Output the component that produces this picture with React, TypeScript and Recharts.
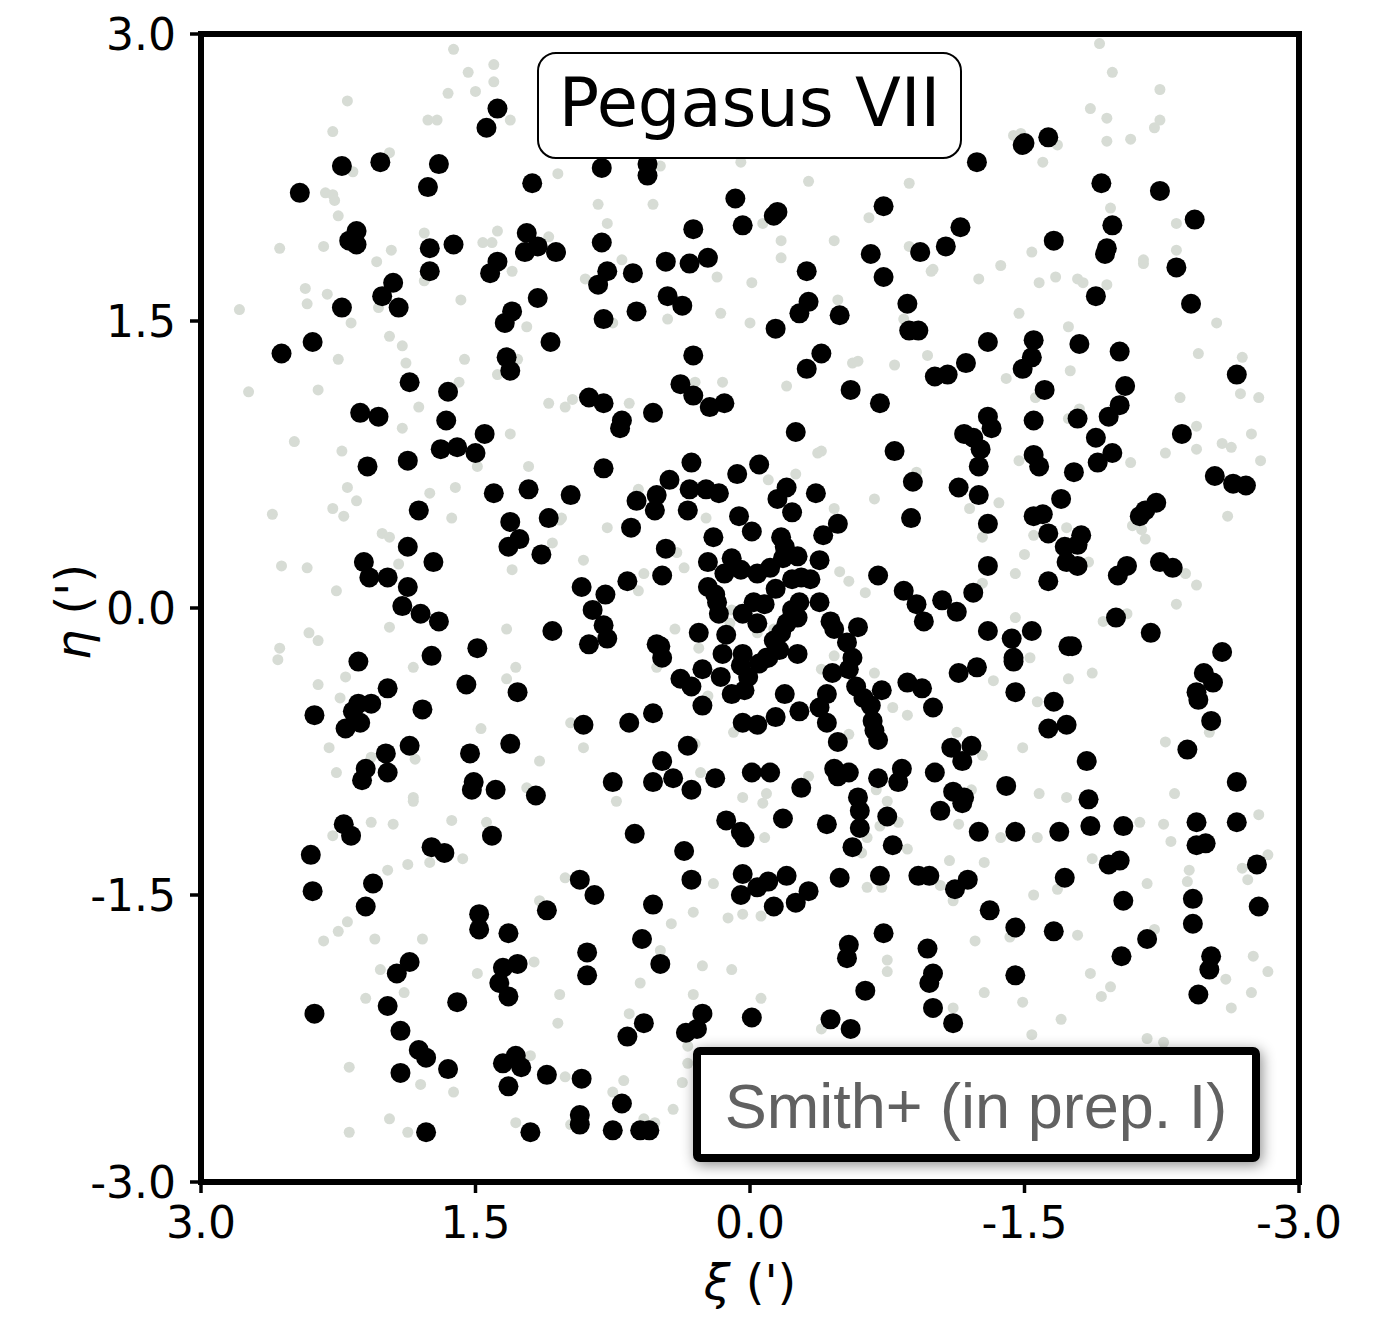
import React from 'react';
import { ScatterChart, Scatter, XAxis, YAxis, ReferenceArea } from 'recharts';

// ---------- data (xi, eta) in arcmin ----------
const xTicks = [3, 1.5, 0, -1.5, -3];
const yTicks = [3, 1.5, 0, -1.5, -3];
const titleText = 'Pegasus VII';
const creditText = 'Smith+ (in prep. I)';
const xTitleSymbol = 'ξ';
const yTitleSymbol = 'η';
const unitText = " (')";

// faint field stars (light grey)
const fieldStars: [number, number][] = [
  [1.62,2.92],[1.40,2.84],[1.54,2.80],[1.40,2.75],[1.65,2.69],[1.50,2.70],[2.20,2.65],[1.76,2.55],[1.71,2.55],[1.31,2.55],
  [2.28,2.49],[1.97,2.38],[2.17,2.28],[1.05,2.27],[2.32,2.17],[2.28,2.16],[2.27,2.13],[2.25,2.05],[1.78,1.96],[1.38,1.97],
  [1.46,1.91],[1.41,1.91],[1.10,1.94],[2.57,1.88],[2.33,1.89],[1.96,1.87],[2.04,1.81],[1.30,1.76],[1.78,1.71],[2.43,1.67],
  [2.31,1.64],[2.42,1.59],[1.58,1.61],[2.03,1.57],[2.79,1.56],[2.18,1.49],[1.22,1.47],[1.97,1.42],[1.90,1.37],[1.56,1.30],
  [2.25,1.30],[1.88,1.28],[1.27,1.30],[1.38,1.22],[1.59,1.18],[2.74,1.13],[2.36,1.14],[1.81,1.05],[1.10,1.07],[1.01,1.05],
  [0.49,2.31],[0.05,2.33],[-0.32,2.23],[-0.87,2.22],[0.83,2.11],[0.53,2.11],[0.78,2.01],[-0.07,2.01],[-0.65,2.04],[-0.17,1.92],
  [-0.46,1.92],[-0.87,1.89],[-0.17,1.83],[0.70,1.82],[0.90,1.72],[0.18,1.73],[-0.01,1.70],[-0.99,1.76],[-0.48,1.61],[0.16,1.54],
  [0.00,1.49],[0.45,1.51],[0.75,1.49],[-0.84,1.51],[-0.97,1.32],[-0.56,1.28],[-0.59,1.29],[-0.79,1.27],[0.30,1.18],[0.15,1.18],
  [-0.20,1.16],[0.97,1.09],[0.66,1.07],[-1.91,2.95],[-1.98,2.80],[-2.24,2.71],[-1.86,2.61],[-1.95,2.56],[-2.24,2.55],[-2.21,2.51],
  [-1.95,2.44],[-2.08,2.45],[-1.44,2.47],[-1.48,2.48],[-1.68,2.42],[-1.60,2.33],[-1.97,2.09],[-2.33,2.01],[-2.33,1.87],[-2.15,1.82],
  [-2.15,1.80],[-1.54,1.86],[-1.37,1.79],[-1.25,1.72],[-1.58,1.70],[-1.67,1.73],[-1.79,1.72],[-1.82,1.70],[-1.95,1.69],[-1.00,1.77],
  [-1.47,1.54],[-1.74,1.47],[-2.55,1.49],[-2.45,1.33],[-2.69,1.31],[-1.75,1.24],[-1.40,1.20],[-2.68,1.12],[-2.78,1.10],[-2.35,1.10],
  [-1.56,1.10],[-1.80,1.04],[-1.74,0.99],[1.90,0.94],[2.49,0.87],[2.23,0.82],[1.31,0.91],[1.49,0.74],[1.21,0.74],[2.20,0.63],
  [2.15,0.56],[2.28,0.52],[2.22,0.48],[2.61,0.49],[1.75,0.60],[1.61,0.63],[1.63,0.47],[1.04,0.46],[1.08,0.34],[2.01,0.39],
  [1.97,0.37],[1.92,0.23],[2.56,0.22],[2.42,0.21],[2.26,0.09],[1.30,0.20],[1.97,-0.10],[2.41,-0.13],[2.36,-0.17],[2.57,-0.21],
  [2.58,-0.27],[1.33,-0.11],[1.84,-0.31],[1.28,-0.31],[1.33,-0.37],[2.21,-0.36],[2.36,-0.40],[2.24,-0.47],[1.47,-0.63],[0.98,-0.60],
  [2.30,-0.73],[2.07,-0.78],[1.83,-0.79],[2.26,-0.86],[1.15,-0.80],[1.22,-0.94],[1.84,-0.99],[-0.39,0.82],[-0.37,0.81],[-0.25,0.70],
  [-0.10,0.67],[-0.91,0.71],[-0.68,0.57],[-0.46,0.52],[0.24,0.47],[0.78,0.42],[1.03,0.47],[0.61,0.62],[0.40,0.29],[0.36,0.21],
  [0.91,0.25],[0.58,0.18],[0.61,0.09],[-0.49,0.19],[-0.54,0.14],[-0.63,0.08],[0.10,-0.01],[0.41,-0.11],[0.28,-0.21],[0.11,-0.08],
  [-0.04,-0.13],[-0.13,-0.11],[-0.46,-0.25],[-0.39,-0.32],[-0.68,-0.34],[-0.78,-0.52],[-0.86,-0.56],[-0.54,-0.66],[0.51,-0.31],[0.23,-0.46],
  [0.09,-0.65],[0.91,-0.73],[0.30,-0.71],[0.27,-0.86],[-0.32,-0.88],[0.04,-0.99],[-0.09,-0.97],[-0.69,-0.95],[-2.44,0.95],[-2.74,0.91],
  [-2.58,0.86],[-2.63,0.84],[-2.27,0.81],[-2.44,0.83],[-2.79,0.77],[-2.08,0.76],[-1.47,0.77],[-1.36,0.55],[-1.20,0.52],[-2.61,0.48],
  [-1.73,0.42],[-1.55,0.38],[-1.27,0.37],[-2.09,0.43],[-2.14,0.41],[-2.16,0.36],[-1.50,0.28],[-1.45,0.18],[-1.85,0.24],[-2.38,0.18],
  [-2.44,0.12],[-2.33,0.02],[-1.27,0.13],[-1.45,-0.05],[-1.93,-0.07],[-2.06,-0.03],[-1.53,-0.26],[-1.33,-0.38],[-1.74,-0.37],[-1.87,-0.34],
  [-1.57,-0.49],[-1.13,-0.65],[-1.27,-0.77],[-1.49,-0.73],[-2.27,-0.70],[-2.51,-0.65],[-1.21,-0.95],[-1.58,-0.97],[-1.73,-0.99],[-2.32,-0.97],
  [1.84,-1.01],[2.07,-1.12],[1.95,-1.13],[1.63,-1.11],[1.44,-1.12],[2.28,-1.19],[1.57,-1.31],[1.75,-1.33],[1.87,-1.34],[1.98,-1.37],
  [1.01,-1.41],[1.15,-1.53],[2.20,-1.64],[2.25,-1.69],[2.33,-1.74],[2.05,-1.73],[1.79,-1.73],[2.02,-1.89],[1.89,-2.01],[2.10,-2.04],
  [1.49,-1.91],[1.18,-1.85],[1.04,-2.02],[1.05,-2.17],[1.20,-2.34],[2.19,-2.40],[1.80,-2.49],[1.62,-2.53],[1.01,-2.45],[1.97,-2.67],
  [2.19,-2.74],[1.87,-2.74],[1.28,-2.69],[0.98,-2.70],[0.73,-1.01],[-0.07,-1.02],[-0.08,-1.20],[-0.75,-1.01],[-0.81,-1.12],[-0.71,-1.14],
  [-0.64,-1.20],[-0.61,-1.28],[-0.86,-1.26],[0.20,-1.44],[0.31,-1.59],[0.12,-1.62],[0.04,-1.60],[-0.06,-1.61],[0.43,-1.65],[0.49,-1.79],
  [0.26,-1.87],[0.10,-1.89],[0.60,-1.96],[0.31,-2.02],[-0.06,-2.04],[-0.64,-1.46],[-0.72,-1.46],[-0.75,-1.84],[-0.75,-1.90],[0.66,-2.12],
  [-0.39,-2.20],[0.34,-2.29],[0.34,-2.38],[0.37,-2.48],[0.42,-2.62],[0.69,-2.47],[0.75,-2.53],[0.58,-2.67],[0.52,-2.69],[-1.14,-1.13],
  [-1.37,-1.20],[-1.57,-1.20],[-2.13,-1.12],[-2.26,-1.13],[-2.30,-1.22],[-2.78,-1.08],[-1.09,-1.32],[-1.28,-1.33],[-1.87,-1.31],[-2.40,-1.37],
  [-2.39,-1.43],[-2.69,-1.36],[-2.72,-1.42],[-2.83,-1.29],[-2.17,-1.44],[-1.55,-1.50],[-1.68,-1.47],[-1.04,-1.45],[-1.11,-1.53],[-1.23,-1.74],
  [-1.42,-1.72],[-1.79,-1.71],[-2.21,-1.68],[-1.86,-1.91],[-1.97,-1.98],[-1.92,-2.03],[-1.28,-2.01],[-1.49,-2.06],[-2.75,-1.82],[-2.83,-1.90],
  [-2.60,-1.94],[-2.74,-2.01],[-2.63,-2.09],[-1.70,-2.15],[-1.54,-2.23],[-2.17,-2.25],[-2.26,-2.27],[-1.11,-2.09],
];

// selected stars (black)
const memberStars: [number, number][] = [
  [-1.24,2.33],[-1.49,2.42],[-1.50,2.43],[-1.63,2.46],[-1.92,2.22],[-2.24,2.18],[-1.15,1.99],[-1.07,1.89],[-1.66,1.92],[-1.98,2.00],
  [-1.95,1.88],[-1.94,1.85],[-2.33,1.78],[-2.43,2.03],[-1.89,1.63],[-2.41,1.59],[-1.30,1.39],[-1.55,1.40],[-1.54,1.31],[-1.49,1.25],
  [-1.80,1.38],[-2.02,1.34],[-1.18,1.28],[-1.08,1.22],[-1.01,1.21],[-1.61,1.14],[-2.05,1.16],[-2.02,1.06],[-2.66,1.22],[-1.30,1.00],
  [-1.55,0.98],[-1.79,0.99],[-1.96,1.00],[1.38,2.61],[1.44,2.51],[2.23,2.31],[2.02,2.33],[1.70,2.32],[1.76,2.20],[2.46,2.17],
  [1.19,2.22],[2.15,1.97],[2.19,1.92],[2.15,1.90],[1.75,1.88],[1.62,1.90],[1.75,1.76],[1.38,1.81],[1.42,1.75],[1.22,1.96],
  [1.16,1.89],[1.23,1.86],[1.06,1.86],[1.95,1.70],[2.01,1.63],[1.92,1.57],[2.23,1.57],[1.16,1.62],[1.30,1.55],[1.34,1.49],
  [1.09,1.39],[2.39,1.39],[2.56,1.33],[1.33,1.31],[1.31,1.24],[1.86,1.18],[1.65,1.13],[2.13,1.02],[2.03,1.00],[1.66,0.98],
  [0.81,2.30],[0.56,2.32],[0.56,2.26],[0.08,2.14],[0.04,2.00],[-0.13,2.05],[-0.15,2.07],[0.31,1.98],[-0.73,2.10],[0.81,1.91],
  [0.78,1.76],[0.83,1.69],[0.64,1.75],[0.46,1.81],[0.33,1.80],[0.23,1.83],[-0.31,1.76],[-0.66,1.85],[-0.93,1.86],[-0.73,1.73],
  [0.45,1.63],[0.37,1.58],[0.80,1.51],[0.62,1.55],[-0.32,1.60],[-0.27,1.54],[-0.49,1.53],[-0.86,1.59],[-0.87,1.45],[-0.92,1.45],
  [-0.14,1.46],[0.31,1.32],[-0.39,1.33],[-0.31,1.25],[0.38,1.17],[0.31,1.11],[0.88,1.10],[0.80,1.07],[0.22,1.05],[0.14,1.07],
  [0.53,1.02],[-0.55,1.14],[-0.71,1.07],[0.70,0.98],[1.45,0.91],[1.69,0.83],[1.60,0.84],[1.50,0.81],[2.09,0.74],[1.87,0.77],
  [1.40,0.60],[1.21,0.62],[0.98,0.59],[1.81,0.51],[1.31,0.45],[1.10,0.47],[1.26,0.36],[1.32,0.32],[1.14,0.28],[1.87,0.32],
  [2.11,0.24],[2.08,0.16],[1.98,0.16],[1.73,0.24],[1.87,0.11],[1.90,0.01],[1.80,-0.03],[1.70,-0.07],[1.08,-0.12],[1.49,-0.21],
  [1.74,-0.25],[2.14,-0.28],[1.98,-0.42],[1.55,-0.40],[1.27,-0.44],[2.38,-0.56],[2.14,-0.50],[2.07,-0.50],[2.17,-0.54],[2.13,-0.60],
  [2.21,-0.63],[1.79,-0.53],[1.31,-0.71],[1.86,-0.72],[1.99,-0.76],[1.53,-0.76],[2.10,-0.84],[2.12,-0.90],[1.98,-0.86],[1.51,-0.91],
  [1.52,-0.95],[1.39,-0.95],[1.17,-0.98],[0.71,0.94],[-0.25,0.92],[-0.79,0.82],[0.80,0.73],[0.32,0.76],[-0.05,0.75],[0.07,0.70],
  [0.44,0.67],[0.51,0.59],[0.62,0.56],[0.52,0.51],[0.33,0.62],[0.24,0.62],[0.17,0.60],[0.34,0.51],[-0.20,0.63],[-0.15,0.57],
  [-0.23,0.50],[-0.36,0.60],[-0.89,0.66],[-0.88,0.47],[0.06,0.48],[-0.01,0.40],[-0.48,0.44],[-0.40,0.38],[0.65,0.42],[0.20,0.37],
  [-0.17,0.37],[-0.19,0.32],[-0.26,0.27],[-0.18,0.26],[0.46,0.31],[0.23,0.24],[0.10,0.26],[0.05,0.20],[0.14,0.18],[-0.04,0.18],
  [-0.11,0.21],[-0.38,0.25],[0.48,0.17],[0.67,0.14],[0.92,0.11],[0.79,0.07],[0.86,-0.01],[0.80,-0.09],[0.78,-0.16],[0.88,-0.19],
  [0.23,0.11],[0.19,0.07],[0.18,0.03],[0.17,-0.03],[-0.14,0.10],[-0.23,0.15],[-0.28,0.16],[-0.33,0.15],[-0.38,0.03],[-0.02,0.03],
  [-0.08,0.02],[0.04,-0.03],[-0.04,-0.08],[-0.27,0.03],[-0.23,-0.01],[-0.26,-0.05],[-0.20,-0.08],[-0.17,-0.13],[-0.70,0.17],[-0.84,0.09],
  [-0.91,0.02],[-0.95,-0.07],[-0.44,-0.07],[-0.46,-0.11],[-0.59,-0.10],[0.28,-0.13],[0.13,-0.14],[-0.13,-0.17],[-0.16,-0.22],[-0.26,-0.24],
  [-0.10,-0.26],[-0.53,-0.18],[-0.56,-0.26],[-0.54,-0.32],[0.51,-0.19],[0.49,-0.20],[0.48,-0.26],[0.15,-0.24],[0.04,-0.24],[0.05,-0.30],
  [-0.05,-0.29],[-0.09,-0.26],[-0.45,-0.34],[0.38,-0.37],[0.32,-0.41],[0.26,-0.32],[0.16,-0.36],[0.01,-0.36],[0.03,-0.43],[0.10,-0.45],
  [-0.58,-0.41],[-0.62,-0.47],[-0.66,-0.51],[-0.72,-0.43],[-0.67,-0.59],[-0.68,-0.64],[-0.70,-0.69],[-0.86,-0.39],[-0.94,-0.42],[-1.00,-0.52],
  [-0.42,-0.45],[-0.38,-0.52],[-0.42,-0.60],[-0.48,-0.70],[-0.19,-0.45],[-0.27,-0.54],[-0.14,-0.57],[0.26,-0.51],[0.04,-0.60],[-0.04,-0.61],
  [0.91,-0.61],[0.66,-0.60],[0.53,-0.55],[0.34,-0.72],[0.48,-0.80],[0.75,-0.91],[0.53,-0.91],[0.42,-0.89],[0.32,-0.95],[0.19,-0.89],
  [-0.01,-0.86],[-0.11,-0.86],[-0.28,-0.94],[-0.46,-0.84],[-0.54,-0.86],[-0.48,-0.88],[-0.70,-0.89],[-0.83,-0.84],[-0.81,-0.91],[-1.01,-0.86],
  [-0.59,-0.99],[-1.32,0.94],[-1.89,0.89],[-2.36,0.91],[-1.17,0.91],[-1.22,0.89],[-1.26,0.83],[-1.25,0.74],[-1.55,0.80],[-1.58,0.74],
  [-1.98,0.81],[-1.90,0.76],[-1.77,0.71],[-2.54,0.69],[-2.64,0.65],[-2.71,0.64],[-1.14,0.63],[-1.25,0.59],[-1.70,0.57],[-2.22,0.55],
  [-2.16,0.51],[-2.13,0.48],[-1.55,0.48],[-1.60,0.49],[-1.30,0.44],[-1.63,0.39],[-1.81,0.38],[-1.72,0.32],[-1.79,0.33],[-1.73,0.24],
  [-1.79,0.22],[-1.30,0.22],[-2.06,0.22],[-2.01,0.17],[-2.24,0.24],[-2.31,0.21],[-1.63,0.14],[-1.05,0.04],[-1.13,-0.02],[-1.22,0.08],
  [-2.00,-0.05],[-2.19,-0.13],[-1.30,-0.12],[-1.43,-0.16],[-1.54,-0.12],[-1.74,-0.20],[-1.76,-0.20],[-1.44,-0.26],[-1.44,-0.28],[-1.24,-0.31],
  [-1.14,-0.34],[-2.58,-0.23],[-2.48,-0.34],[-2.53,-0.39],[-2.44,-0.44],[-2.45,-0.48],[-1.45,-0.44],[-1.66,-0.49],[-1.63,-0.63],[-1.73,-0.61],
  [-2.52,-0.59],[-1.10,-0.73],[-1.21,-0.72],[-1.16,-0.80],[-1.84,-0.80],[-2.39,-0.74],[-1.40,-0.93],[-1.11,-0.96],[-1.17,-0.99],[-1.85,-1.00],
  [-2.66,-0.91],[2.22,-1.13],[2.18,-1.19],[2.40,-1.29],[1.41,-1.19],[1.74,-1.25],[1.67,-1.28],[2.39,-1.48],[2.06,-1.44],[2.10,-1.56],
  [1.11,-1.58],[1.48,-1.60],[1.48,-1.68],[1.32,-1.70],[1.86,-1.85],[1.93,-1.91],[1.27,-1.86],[1.35,-1.88],[1.37,-1.96],[1.32,-2.03],
  [2.38,-2.12],[1.98,-2.08],[1.60,-2.06],[1.91,-2.21],[1.81,-2.31],[1.77,-2.35],[1.91,-2.43],[1.65,-2.41],[1.35,-2.38],[1.28,-2.34],
  [1.25,-2.40],[1.11,-2.44],[1.32,-2.50],[1.77,-2.74],[1.20,-2.74],[-0.60,-1.06],[0.63,-1.18],[0.13,-1.11],[0.05,-1.17],[0.03,-1.20],
  [-0.18,-1.10],[-0.42,-1.13],[-0.60,-1.15],[-0.56,-1.25],[-0.75,-1.09],[-0.78,-1.24],[-1.04,-1.06],[0.36,-1.27],[0.93,-1.42],[0.85,-1.50],
  [0.32,-1.42],[0.04,-1.39],[-0.04,-1.46],[-0.10,-1.43],[-0.20,-1.40],[0.05,-1.50],[-0.13,-1.56],[-0.25,-1.54],[-0.32,-1.48],[-0.49,-1.41],
  [-0.71,-1.40],[-0.92,-1.40],[-0.98,-1.40],[0.53,-1.55],[0.59,-1.73],[0.49,-1.86],[0.89,-1.80],[0.89,-1.92],[-0.54,-1.76],[-0.53,-1.83],
  [-0.73,-1.70],[-0.63,-2.00],[-0.97,-1.78],[-1.00,-1.91],[-0.98,-1.96],[-1.00,-2.09],[0.26,-2.12],[0.29,-2.20],[0.35,-2.22],[-0.01,-2.14],
  [-0.44,-2.15],[-0.55,-2.20],[0.58,-2.17],[0.67,-2.24],[0.92,-2.46],[0.70,-2.59],[0.93,-2.65],[0.93,-2.70],[0.75,-2.73],[0.60,-2.73],
  [0.55,-2.73],[-1.16,-1.02],[-1.86,-1.14],[-1.25,-1.17],[-1.45,-1.17],[-1.69,-1.17],[-2.04,-1.14],[-2.44,-1.12],[-2.44,-1.24],[-2.49,-1.23],
  [-2.66,-1.12],[-1.19,-1.42],[-1.12,-1.47],[-1.72,-1.41],[-2.02,-1.32],[-1.96,-1.34],[-2.77,-1.34],[-1.31,-1.58],[-1.45,-1.67],[-1.66,-1.69],
  [-2.04,-1.53],[-2.42,-1.52],[-2.42,-1.65],[-2.78,-1.56],[-2.17,-1.73],[-2.03,-1.82],[-1.11,-2.17],[-1.45,-1.92],[-2.52,-1.82],[-2.51,-1.89],
  [-2.45,-2.02],
];

const fieldData = fieldStars.map(([xi, eta]) => ({ xi, eta }));
const memberData = memberStars.map(([xi, eta]) => ({ xi, eta }));

const W = 1366;
const H = 1310;
const FONT = "'DejaVu Sans', 'Noto Sans', sans-serif";

const FieldDot = (p: any) => <circle cx={p.cx} cy={p.cy} r={5.5} fill="#d7dcd5" />;
const MemberDot = (p: any) => <circle cx={p.cx} cy={p.cy} r={10} fill="#000000" />;

const fmt = (v: number) => v.toFixed(1);

export default function App() {
  return (
    <div style={{ position: 'relative', width: W, height: H, background: '#fff' }}>
      <ScatterChart width={W} height={H} margin={{ top: 26, right: 75, bottom: 0, left: 0 }}>
        <XAxis
          type="number"
          dataKey="xi"
          domain={[-3, 3]}
          reversed
          allowDataOverflow
          ticks={xTicks}
          interval={0}
          tickFormatter={fmt}
          axisLine={false}
          tickLine={{ stroke: '#000', strokeWidth: 3.5 }}
          tickSize={11}
          tickMargin={14}
          height={136}
          tick={{ fill: '#000', fontSize: 44, fontFamily: FONT }}
        />
        <YAxis
          type="number"
          dataKey="eta"
          domain={[-3, 3]}
          allowDataOverflow
          ticks={yTicks}
          interval={0}
          tickFormatter={fmt}
          axisLine={false}
          tickLine={{ stroke: '#000', strokeWidth: 3.5 }}
          tickSize={11}
          tickMargin={14}
          width={193}
          tick={{ fill: '#000', fontSize: 44, fontFamily: FONT }}
        />
        <Scatter data={fieldData} shape={FieldDot} isAnimationActive={false} />
        <Scatter data={memberData} shape={MemberDot} isAnimationActive={false} />
        <ReferenceArea
          x1={3}
          x2={-3}
          y1={-3}
          y2={3}
          fill="none"
          fillOpacity={0}
          stroke="#000"
          strokeWidth={6}
          ifOverflow="visible"
        />
      </ScatterChart>
      <svg
        width={W}
        height={H}
        style={{ position: 'absolute', left: 0, top: 0, pointerEvents: 'none' }}
      >
        <defs>
          <filter id="boxShadow" x="-10%" y="-40%" width="120%" height="180%">
            <feDropShadow dx="2" dy="3" stdDeviation="7" floodColor="#000" floodOpacity="0.45" />
          </filter>
        </defs>
        {/* axis titles */}
        <text
          transform="translate(82,604) rotate(-90)"
          textAnchor="middle"
          fontSize={48}
          fontFamily={FONT}
          fill="#000"
        >
          <tspan fontStyle="italic">{yTitleSymbol}</tspan>
          {unitText}
        </text>
        <text x={742} y={1291} textAnchor="middle" fontSize={48} fontFamily={FONT} fill="#000">
          <tspan fontStyle="italic">{xTitleSymbol}</tspan>
          {unitText}
        </text>
        {/* title box */}
        <rect x={530} y={45} width={423} height={105} rx={18} ry={18} fill="#fff" stroke="#000" strokeWidth={2} />
        <text x={741.5} y={118} textAnchor="middle" fontSize={67} fontFamily={FONT} fill="#000">
          {titleText}
        </text>
        {/* credit box */}
        <rect
          x={689}
          y={1043}
          width={559}
          height={107}
          rx={3}
          ry={3}
          fill="#fff"
          stroke="#000"
          strokeWidth={8}
          filter="url(#boxShadow)"
        />
        <text
          x={968}
          y={1120}
          textAnchor="middle"
          fontSize={63}
          fontFamily="'Liberation Sans', Arial, sans-serif"
          fill="#616161"
        >
          {creditText}
        </text>
      </svg>
    </div>
  );
}
